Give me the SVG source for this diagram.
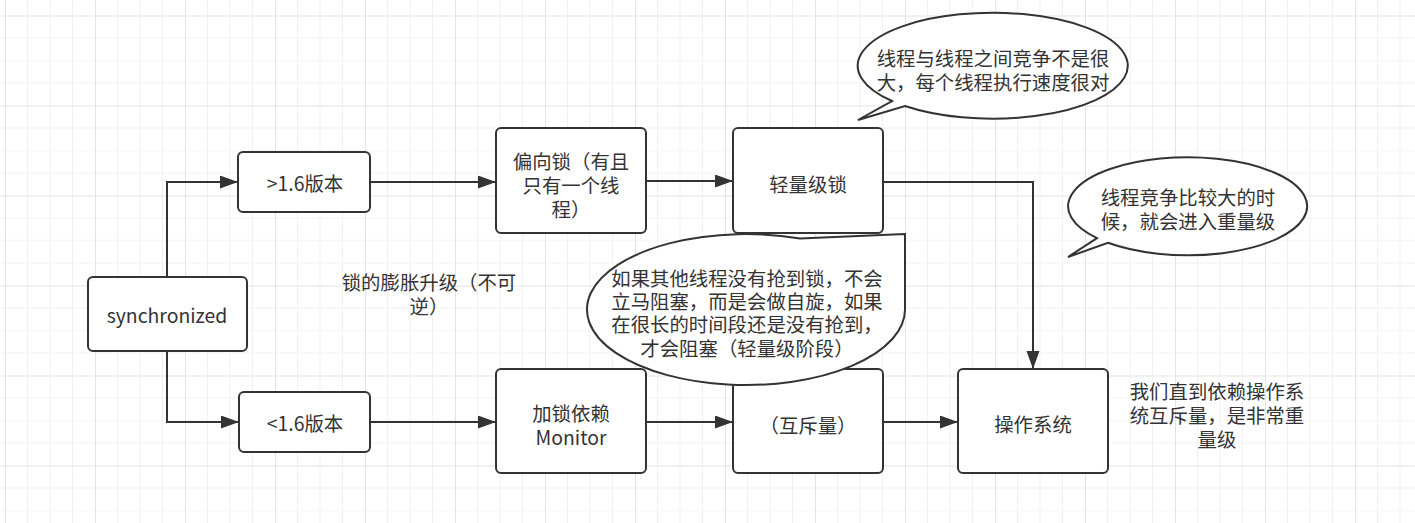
<svg xmlns="http://www.w3.org/2000/svg" width="1415" height="523" viewBox="0 0 1415 523">
  <defs>
    <pattern id="grid" patternUnits="userSpaceOnUse" x="5" y="15.5" width="90" height="90">
      <path d="M22.5,0V90M45,0V90M67.5,0V90M0,22.5H90M0,45H90M0,67.5H90" stroke="#f1f1f1" stroke-width="1" fill="none"/>
      <path d="M0.5,0V90M0,0.5H90" stroke="#e3e3e3" stroke-width="1" fill="none"/>
    </pattern>
    <marker id="arrow" markerUnits="userSpaceOnUse" markerWidth="20" markerHeight="14" refX="18" refY="6.5" orient="auto">
      <path d="M0,0L18,6.5L0,13Z" fill="#333333"/>
    </marker>
  </defs>
  <style>
    .box { fill: #ffffff; stroke: #333333; stroke-width: 2; }
    .edge { fill: none; stroke: #333333; stroke-width: 2; marker-end: url(#arrow); }
    .call { fill: #ffffff; stroke: #333333; stroke-width: 2; stroke-linejoin: miter; }
    text { font-family: "Noto Sans CJK SC", "Noto Sans", sans-serif; font-size: 19.4px; fill: #333333; text-anchor: middle; dominant-baseline: central; }
  </style>
  <rect width="1415" height="523" fill="#ffffff"/>
  <rect width="1415" height="523" fill="url(#grid)"/>

  <g id="connectors">
    <path class="edge" d="M167,277V182H238"/>
    <path class="edge" d="M167,351V422H239"/>
    <path class="edge" d="M370,182H496"/>
    <path class="edge" d="M646,181H733"/>
    <path class="edge" d="M883,182H1033V369"/>
    <path class="edge" d="M370,422H496"/>
    <path class="edge" d="M646,422H733"/>
    <path class="edge" d="M883,422H958"/>
  </g>

  <g id="node-synchronized">
    <rect class="box" x="88" y="277" width="159" height="74" rx="5"/>
    <text x="167" y="314">synchronized</text>
  </g>
  <g id="node-gt16">
    <rect class="box" x="238" y="152" width="132" height="60" rx="5"/>
    <text x="305" y="182">&gt;1.6版本</text>
  </g>
  <g id="node-lt16">
    <rect class="box" x="239" y="392" width="131" height="60" rx="5"/>
    <text x="305" y="422">&lt;1.6版本</text>
  </g>
  <g id="node-biased">
    <rect class="box" x="496" y="128" width="150" height="105" rx="5"/>
    <text x="571"><tspan x="571" y="160">偏向锁（有且</tspan><tspan x="571" y="184">只有一个线</tspan><tspan x="571" y="208">程）</tspan></text>
  </g>
  <g id="node-lightweight">
    <rect class="box" x="733" y="128" width="150" height="105" rx="5"/>
    <text x="808" y="183">轻量级锁</text>
  </g>
  <g id="node-monitor">
    <rect class="box" x="496" y="369" width="150" height="104" rx="5"/>
    <text x="571"><tspan x="571" y="412">加锁依赖</tspan><tspan x="571" y="436">Monitor</tspan></text>
  </g>
  <g id="node-mutex">
    <rect class="box" x="733" y="369" width="150" height="104" rx="5"/>
    <text x="808" y="424">（互斥量）</text>
  </g>
  <g id="node-os">
    <rect class="box" x="958" y="369" width="150" height="104" rx="5"/>
    <text x="1033" y="423">操作系统</text>
  </g>

  <g id="label-inflation">
    <text x="429"><tspan x="429" y="281">锁的膨胀升级（不可</tspan><tspan x="429" y="305">逆）</tspan></text>
  </g>
  <g id="label-os-note">
    <text x="1217"><tspan x="1217" y="390">我们直到依赖操作系</tspan><tspan x="1217" y="414">统互斥量，是非常重</tspan><tspan x="1217" y="438">量级</tspan></text>
  </g>

  <g id="callout-top">
    <path class="call" d="M858,120L892,101A135,53 0 1 1 905,106Z"/>
    <text x="993"><tspan x="993" y="57">线程与线程之间竞争不是很</tspan><tspan x="993" y="81">大，每个线程执行速度很对</tspan></text>
  </g>
  <g id="callout-right">
    <path class="call" d="M1068,257L1097,238.2A119.5,49 0 1 1 1108,242.8Z"/>
    <text x="1188"><tspan x="1188" y="196">线程竞争比较大的时</tspan><tspan x="1188" y="220">候，就会进入重量级</tspan></text>
  </g>
  <g id="callout-middle">
    <path class="call" d="M905,234L800,238.5A159,75.5 0 1 0 905,309.5Z"/>
    <text x="747"><tspan x="747" y="277">如果其他线程没有抢到锁，不会</tspan><tspan x="747" y="300">立马阻塞，而是会做自旋，如果</tspan><tspan x="747" y="323">在很长的时间段还是没有抢到，</tspan><tspan x="747" y="347">才会阻塞（轻量级阶段）</tspan></text>
  </g>
</svg>
